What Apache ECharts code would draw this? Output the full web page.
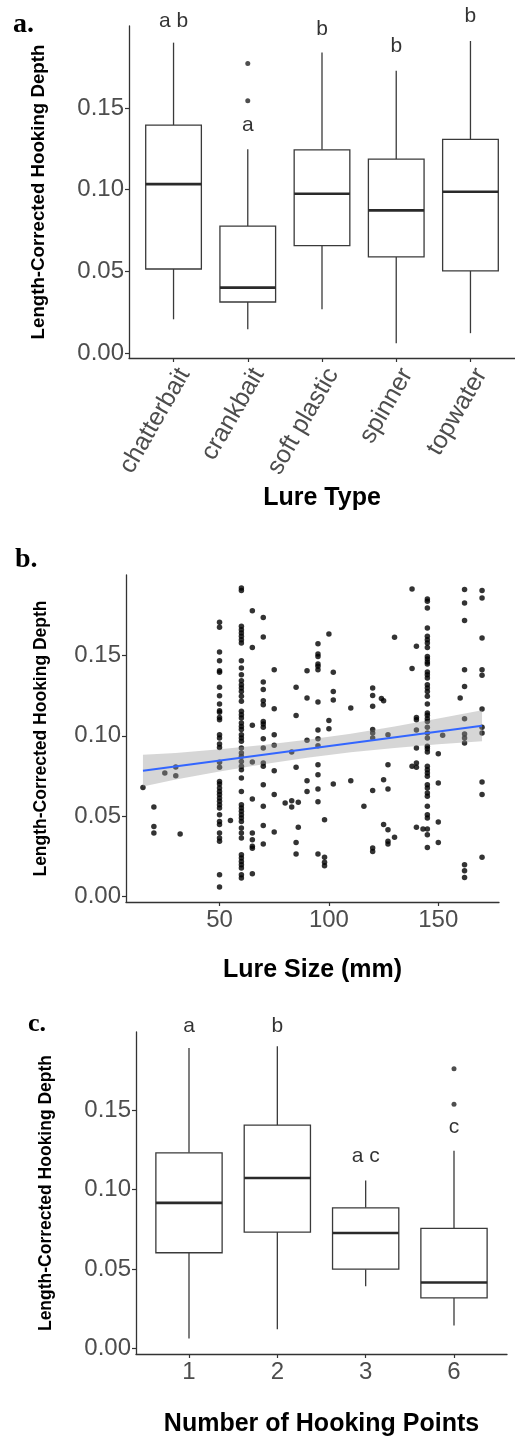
<!DOCTYPE html>
<html>
<head>
<meta charset="utf-8">
<script src="https://cdn.jsdelivr.net/npm/echarts@6/dist/echarts.min.js"></script>
<style>
html,body{margin:0;padding:0;background:#fff;}
#chart{width:515px;height:1438px;}
</style>
</head>
<body>
<div id="chart"></div>
<script>
// ---------- Panel a: lure type boxplots ----------
const lureTypes = ['chatterbait', 'crankbait', 'soft plastic', 'spinner', 'topwater'];
const aMin    = [0.0206, 0.0145, 0.0267, 0.0059, 0.0121];
const aQ1     = [0.0514, 0.0312, 0.0657, 0.0588, 0.0502];
const aMedian = [0.1034, 0.0400, 0.0975, 0.0873, 0.0987];
const aQ3     = [0.1395, 0.0777, 0.1244, 0.1187, 0.1308];
const aMax    = [0.1900, 0.1247, 0.1840, 0.1728, 0.1910];
const aOutliers = [[1, 0.1773], [1, 0.1544]];
const aLetters = ['a b', 'a', 'b', 'b', 'b'];
const aLetterY = [0.2030, 0.1395, 0.1985, 0.1880, 0.2065];

// ---------- Panel b: lure size scatter ----------
const lureSizePoints = [
  [15,0.0679],
  [20,0.0557],[20,0.0436],[20,0.0395],
  [25,0.0769],
  [30,0.0806],[30,0.0752],
  [32,0.0389],
  [50,0.1707],[50,0.1676],[50,0.1523],[50,0.1468],[50,0.1406],[50,0.1396],[50,0.1302],[50,0.1250],[50,0.1198],[50,0.1157],[50,0.1147],[50,0.1115],[50,0.1101],[50,0.1007],[50,0.0987],[50,0.0949],[50,0.0928],[50,0.0835],[50,0.0804],[50,0.0716],[50,0.0700],[50,0.0675],[50,0.0654],[50,0.0634],[50,0.0613],[50,0.0592],[50,0.0571],[50,0.0551],[50,0.0509],[50,0.0467],[50,0.0447],[50,0.0395],[50,0.0364],[50,0.0343],[50,0.0135],[50,0.0059],
  [55,0.0472],
  [60,0.1921],[60,0.1905],[60,0.1682],[60,0.1661],[60,0.1641],[60,0.1620],[60,0.1599],[60,0.1579],[60,0.1468],[60,0.1423],[60,0.1381],[60,0.1344],[60,0.1319],[60,0.1298],[60,0.1277],[60,0.1246],[60,0.1215],[60,0.1153],[60,0.1132],[60,0.1111],[60,0.1080],[60,0.1059],[60,0.1039],[60,0.1007],[60,0.0987],[60,0.0966],[60,0.0925],[60,0.0893],[60,0.0872],[60,0.0841],[60,0.0810],[60,0.0789],[60,0.0738],[60,0.0654],[60,0.0571],[60,0.0551],[60,0.0530],[60,0.0509],[60,0.0488],[60,0.0467],[60,0.0426],[60,0.0395],[60,0.0364],[60,0.0260],[60,0.0239],[60,0.0218],[60,0.0197],[60,0.0177],[60,0.0135],[60,0.0115],
  [65,0.1780],[65,0.1551],[65,0.1066],[65,0.0837],[65,0.0607],[65,0.0395],[65,0.0353],[65,0.0312],[65,0.0300],[65,0.0141],
  [70,0.1738],[70,0.1616],[70,0.1336],[70,0.1288],[70,0.1219],[70,0.1194],[70,0.1090],[70,0.1074],[70,0.1053],[70,0.0982],[70,0.0925],[70,0.0831],[70,0.0810],[70,0.0696],[70,0.0561],[70,0.0442],[70,0.0327],
  [75,0.1412],[75,0.1169],[75,0.1007],[75,0.0941],[75,0.0783],[75,0.0634],[75,0.0401],
  [80,0.0582],
  [83,0.0900],[83,0.0596],[83,0.0557],
  [85,0.1302],[85,0.1126],[85,0.0804],[85,0.0336],[85,0.0264],
  [86,0.0586],[86,0.0430],
  [90,0.1406],[90,0.1236],[90,0.0972],[90,0.0721],[90,0.0654],
  [95,0.1574],[95,0.1510],[95,0.1495],[95,0.1448],[95,0.1433],[95,0.1412],[95,0.1211],[95,0.1037],[95,0.0982],[95,0.0939],[95,0.0820],[95,0.0758],[95,0.0669],[95,0.0590],[95,0.0264],
  [98,0.0478],[98,0.0243],[98,0.0212],[98,0.0191],
  [100,0.1635],[100,0.1095],[100,0.1045],
  [102,0.1396],[102,0.1277],[102,0.1224],[102,0.0700],
  [110,0.1174],[110,0.0721],
  [116,0.0561],
  [120,0.1298],[120,0.1252],[120,0.1184],[120,0.1039],[120,0.1018],[120,0.0987],[120,0.0659],[120,0.0302],[120,0.0280],
  [124,0.1232],[125,0.1219],[125,0.0727],[125,0.0447],
  [127,0.1007],[127,0.0820],[127,0.0669],[127,0.0415],[127,0.0343],[127,0.0326],
  [130,0.1614],[130,0.0368],
  [138,0.1915],[138,0.1419],[138,0.0810],
  [140,0.1558],[140,0.1115],[140,0.1101],[140,0.1037],[140,0.0925],[140,0.0831],[140,0.0804],[140,0.0430],
  [143,0.0420],
  [145,0.1853],[145,0.1838],[145,0.1797],[145,0.1672],[145,0.1620],[145,0.1599],[145,0.1579],[145,0.1551],[145,0.1495],[145,0.1479],[145,0.1460],[145,0.1448],[145,0.1398],[145,0.1381],[145,0.1361],[145,0.1319],[145,0.1298],[145,0.1277],[145,0.1246],[145,0.1198],[145,0.1143],[145,0.1128],[145,0.1107],[145,0.1090],[145,0.1053],[145,0.1018],[145,0.0987],[145,0.0935],[145,0.0920],[145,0.0900],[145,0.0810],[145,0.0789],[145,0.0769],[145,0.0748],[145,0.0696],[145,0.0675],[145,0.0644],[145,0.0623],[145,0.0561],[145,0.0509],[145,0.0488],[145,0.0420],[145,0.0384],[145,0.0305],
  [150,0.0889],[150,0.0707],[150,0.0463],[150,0.0336],
  [152,0.1003],
  [160,0.1236],
  [162,0.1911],[162,0.1828],[162,0.1718],[162,0.1412],[162,0.1308],[162,0.1107],[162,0.1012],[162,0.0987],[162,0.0956],[162,0.0197],[162,0.0160],[162,0.0118],
  [170,0.1906],[170,0.1859],[170,0.1610],[170,0.1412],[170,0.1377],[170,0.1168],[170,0.1053],[170,0.1018],[170,0.0713],[170,0.0634],[170,0.0243]
];
const fitLine = [[15, 0.0783], [170, 0.1063]];
const ciX     = [15, 30, 50, 70, 90, 110, 130, 150, 170];
const ciLower = [0.0685, 0.0728, 0.0778, 0.0823, 0.0864, 0.0898, 0.0925, 0.0947, 0.0966];
const ciUpper = [0.0882, 0.0893, 0.0916, 0.0943, 0.0975, 0.1013, 0.1058, 0.1108, 0.1160];

// ---------- Panel c: number of hooking points ----------
const hookPoints = ['1', '2', '3', '6'];
const cMin    = [0.0062, 0.0121, 0.0392, 0.0144];
const cQ1     = [0.0602, 0.0732, 0.0499, 0.0318];
const cMedian = [0.0916, 0.1072, 0.0726, 0.0415];
const cQ3     = [0.1231, 0.1405, 0.0885, 0.0755];
const cMax    = [0.1891, 0.1902, 0.1056, 0.1244];
const cOutliers = [[3, 0.1759], [3, 0.1537]];
const cLetters = ['a', 'b', 'a c', 'c'];
const cLetterY = [0.2025, 0.2025, 0.1212, 0.1390];

const yTicks = [0, 0.05, 0.10, 0.15];

// ---------- build ----------
const SANS = '"Liberation Sans", Arial, sans-serif';
const SERIF = '"Liberation Serif", "Times New Roman", serif';
const GREY = '#4d4d4d';
const AX = '#333333';
const BOX = '#3a3a3a';

function yAxisCfg(gi, min, max, gap, fs) {
  return {
    type: 'value', gridIndex: gi, min: min, max: max,
    name: 'Length-Corrected Hooking Depth', nameLocation: 'middle', nameGap: gap,
    nameTextStyle: { fontFamily: SANS, fontWeight: 'bold', fontSize: fs, color: '#000' },
    axisLine: { show: true, onZero: false, lineStyle: { color: AX, width: 1.3 } },
    axisTick: { show: true, length: 4, customValues: yTicks, lineStyle: { color: AX, width: 1.2 } },
    axisLabel: { customValues: yTicks, formatter: v => v.toFixed(2), fontFamily: SANS, fontSize: 24, color: GREY, margin: 5 },
    splitLine: { show: false }
  };
}
function boxSeries(xi, yi, mn, q1, md, q3, mx) {
  return {
    type: 'custom', xAxisIndex: xi, yAxisIndex: yi, silent: true, clip: false,
    data: mn.map((v, i) => [i, v, q1[i], md[i], q3[i], mx[i]]),
    encode: { x: 0, y: [1, 2, 3, 4, 5] },
    renderItem: (params, api) => {
      const x = api.value(0);
      const pMin = api.coord([x, api.value(1)]);
      const pQ1 = api.coord([x, api.value(2)]);
      const pQ3 = api.coord([x, api.value(4)]);
      const pMax = api.coord([x, api.value(5)]);
      const mL = api.coord([x - 0.375, api.value(3)]);
      const mR = api.coord([x + 0.375, api.value(3)]);
      const tl = api.coord([x - 0.375, api.value(4)]);
      const br = api.coord([x + 0.375, api.value(2)]);
      return {
        type: 'group',
        children: [
          { type: 'line', shape: { x1: pQ3[0], y1: pQ3[1], x2: pMax[0], y2: pMax[1] }, style: { stroke: BOX, lineWidth: 1.3 } },
          { type: 'line', shape: { x1: pMin[0], y1: pMin[1], x2: pQ1[0], y2: pQ1[1] }, style: { stroke: BOX, lineWidth: 1.3 } },
          { type: 'rect', shape: { x: tl[0], y: tl[1], width: br[0] - tl[0], height: br[1] - tl[1] }, style: { fill: '#fff', stroke: BOX, lineWidth: 1.3 } },
          { type: 'line', shape: { x1: mL[0], y1: mL[1], x2: mR[0], y2: mR[1] }, style: { stroke: '#2a2a2a', lineWidth: 2.6 } }
        ]
      };
    }
  };
}
function letterSeries(xi, yi, letters, ys) {
  return {
    type: 'scatter', xAxisIndex: xi, yAxisIndex: yi, clip: false, silent: true, symbolSize: 0,
    data: letters.map((t, i) => ({ value: [i, ys[i]], name: t })),
    label: { show: true, position: 'inside', formatter: p => p.name, fontFamily: SANS, fontSize: 21, color: '#000' }
  };
}

const option = {
  animation: false,
  backgroundColor: '#fff',
  title: [
    { text: 'a.', left: 8, top: 6, textStyle: { fontFamily: SERIF, fontWeight: 'bold', fontSize: 28, color: '#000' } },
    { text: 'b.', left: 10, top: 541, textStyle: { fontFamily: SERIF, fontWeight: 'bold', fontSize: 28, color: '#000' } },
    { text: 'c.', left: 23, top: 1006, textStyle: { fontFamily: SERIF, fontWeight: 'bold', fontSize: 26, color: '#000' } }
  ],
  grid: [
    { left: 129, top: 26, width: 391, height: 332 },
    { left: 126, top: 575, width: 373, height: 327 },
    { left: 136, top: 1032, width: 371, height: 327 }
  ],
  xAxis: [
    {
      type: 'value', gridIndex: 0, min: -0.6, max: 4.6,
      name: 'Lure Type', nameLocation: 'middle', nameGap: 128,
      nameTextStyle: { fontFamily: SANS, fontWeight: 'bold', fontSize: 25, color: '#000' },
      axisLine: { show: true, onZero: false, lineStyle: { color: AX, width: 1.3 } },
      axisTick: { show: true, length: 4, customValues: [0, 1, 2, 3, 4], lineStyle: { color: AX, width: 1.2 } },
      axisLabel: { customValues: [0, 1, 2, 3, 4], formatter: v => lureTypes[Math.round(v)], rotate: 60, verticalAlign: 'top',
        fontFamily: SANS, fontSize: 25, color: GREY, margin: 6 },
      splitLine: { show: false }
    },
    {
      type: 'value', gridIndex: 1, min: 7.25, max: 177.75,
      name: 'Lure Size (mm)', nameLocation: 'middle', nameGap: 56,
      nameTextStyle: { fontFamily: SANS, fontWeight: 'bold', fontSize: 25, color: '#000' },
      axisLine: { show: true, onZero: false, lineStyle: { color: AX, width: 1.3 } },
      axisTick: { show: true, length: 4, customValues: [50, 100, 150], lineStyle: { color: AX, width: 1.2 } },
      axisLabel: { customValues: [50, 100, 150], fontFamily: SANS, fontSize: 24, color: GREY, margin: 6 },
      splitLine: { show: false }
    },
    {
      type: 'value', gridIndex: 2, min: -0.6, max: 3.6,
      name: 'Number of Hooking Points', nameLocation: 'middle', nameGap: 58,
      nameTextStyle: { fontFamily: SANS, fontWeight: 'bold', fontSize: 25, color: '#000' },
      axisLine: { show: true, onZero: false, lineStyle: { color: AX, width: 1.3 } },
      axisTick: { show: true, length: 4, customValues: [0, 1, 2, 3], lineStyle: { color: AX, width: 1.2 } },
      axisLabel: { customValues: [0, 1, 2, 3], formatter: v => hookPoints[Math.round(v)], fontFamily: SANS, fontSize: 24, color: GREY, margin: 6 },
      splitLine: { show: false }
    }
  ],
  yAxis: [
    yAxisCfg(0, -0.0031, 0.2002, 81, 18.7),
    yAxisCfg(1, -0.0035, 0.2002, 76, 17.5),
    yAxisCfg(2, -0.0035, 0.1991, 81, 17.5)
  ],
  series: [
    // panel a
    boxSeries(0, 0, aMin, aQ1, aMedian, aQ3, aMax),
    { type: 'scatter', xAxisIndex: 0, yAxisIndex: 0, symbolSize: 5, itemStyle: { color: '#222' }, data: aOutliers },
    letterSeries(0, 0, aLetters, aLetterY),
    // panel b
    { type: 'scatter', xAxisIndex: 1, yAxisIndex: 1, symbolSize: 5.5, itemStyle: { color: '#000' }, data: lureSizePoints, z: 2 },
    {
      type: 'custom', xAxisIndex: 1, yAxisIndex: 1, silent: true, z: 3,
      data: ciX.map((x, i) => [x, ciLower[i], ciUpper[i]]),
      encode: { x: 0, y: [1, 2] },
      renderItem: (params, api) => {
        if (params.dataIndex !== 0) return null;
        const n = ciX.length;
        const pts = [];
        for (let i = 0; i < n; i++) pts.push(api.coord([api.value(0, i), api.value(2, i)]));
        for (let i = n - 1; i >= 0; i--) pts.push(api.coord([api.value(0, i), api.value(1, i)]));
        return { type: 'polygon', shape: { points: pts }, style: { fill: 'rgba(153,153,153,0.4)' } };
      }
    },
    { type: 'line', xAxisIndex: 1, yAxisIndex: 1, symbol: 'none', lineStyle: { color: '#3366FF', width: 2 },
      data: fitLine, z: 4, silent: true },
    // panel c
    boxSeries(2, 2, cMin, cQ1, cMedian, cQ3, cMax),
    { type: 'scatter', xAxisIndex: 2, yAxisIndex: 2, symbolSize: 5, itemStyle: { color: '#222' }, data: cOutliers },
    letterSeries(2, 2, cLetters, cLetterY)
  ]
};
const chart = echarts.init(document.getElementById('chart'), null, { renderer: 'canvas' });
chart.setOption(option);
</script>
</body>
</html>
